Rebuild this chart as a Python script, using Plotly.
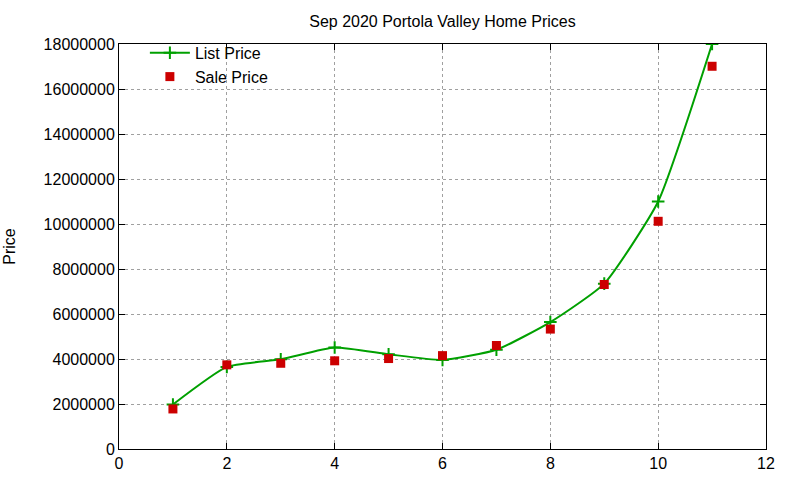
import plotly.graph_objects as go

# data
rank = [1, 2, 3, 4, 5, 6, 7, 8, 9, 10, 11]
list_price = [1980000, 3650000, 3990000, 4510000, 4210000, 3960000, 4410000,
              5640000, 7350000, 11000000, 18000000]
sale_price = [1780000, 3740000, 3810000, 3920000, 4020000, 4150000, 4600000,
              5330000, 7310000, 10120000, 17010000]

fnt = dict(family="Liberation Sans, Arial, sans-serif", size=16, color="black")

fig = go.Figure()
fig.add_trace(go.Scatter(x=rank, y=list_price, mode="lines+markers", name="List Price",
                         line=dict(color="#00a000", width=2, shape="spline", smoothing=0.5),
                         marker=dict(symbol="cross-thin", size=9,
                                     line=dict(color="#00a000", width=2))))
fig.add_trace(go.Scatter(x=rank, y=sale_price, mode="markers", name="Sale Price",
                         marker=dict(symbol="square", size=9, color="#cc0000")))

axis = dict(showline=True, linecolor="black", linewidth=1, mirror="ticks",
            ticks="inside", ticklen=6, tickcolor="black",
            showgrid=True, gridcolor="#a0a0a0", griddash="dot", gridwidth=1,
            zeroline=False, tickfont=fnt, automargin=False)

fig.update_layout(
    width=800, height=480,
    paper_bgcolor="white", plot_bgcolor="white",
    margin=dict(l=119, r=34, t=44, b=31),
    # gnuplot centres the title over the plot area, not the page
    title=dict(text="Sep 2020 Portola Valley Home Prices", xref="paper", x=0.5,
               xanchor="center", y=1 - 21 / 480, yanchor="middle", font=fnt),
    font=fnt,
    xaxis=dict(range=[0, 12], dtick=2, **axis),
    yaxis=dict(range=[0, 18000000], dtick=2000000, tickformat="d",
               title=dict(text="Price", font=fnt, standoff=24), **axis),
    legend=dict(x=0.04, y=1.02, xanchor="left", yanchor="top", bgcolor="rgba(0,0,0,0)",
                font=fnt, tracegroupgap=0, itemwidth=40),
    showlegend=True,
)

fig.write_html("out.html", config={"displayModeBar": False},
               post_script="document.body.style.margin='0';")
